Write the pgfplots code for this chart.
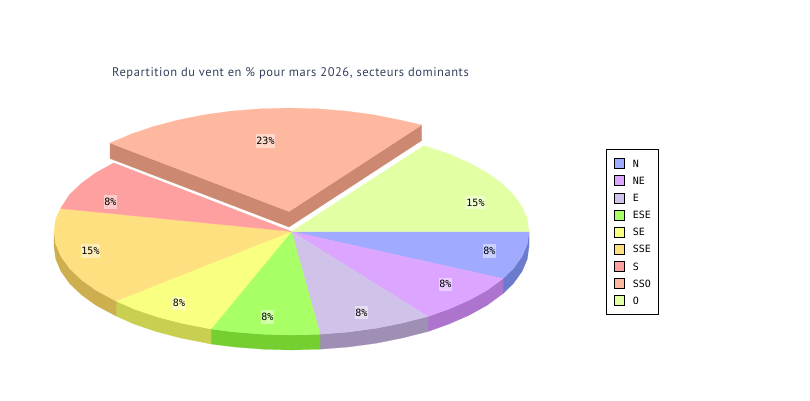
\documentclass[border=0pt]{standalone}
\usepackage{pgfplots}
\pgfplotsset{compat=1.18}
\usepackage{fontspec}
\setmainfont{PT Sans}
\newfontfamily\monof{DejaVu Sans Mono}
\definecolor{cN}{HTML}{A0AAFF}
\definecolor{cNE}{HTML}{DCA5FF}
\definecolor{cE}{HTML}{D0C2E8}
\definecolor{cESE}{HTML}{A8FF66}
\definecolor{cSE}{HTML}{F9FF80}
\definecolor{cSSE}{HTML}{FFE080}
\definecolor{cS}{HTML}{FFA0A0}
\definecolor{cSSO}{HTML}{FFB8A0}
\definecolor{cO}{HTML}{E3FFA3}
\definecolor{wN}{HTML}{6C7CCC}
\definecolor{wNE}{HTML}{AD74CD}
\definecolor{wE}{HTML}{A08FB5}
\definecolor{wESE}{HTML}{76CF30}
\definecolor{wSE}{HTML}{C9CF50}
\definecolor{wSSE}{HTML}{CDAF50}
\definecolor{wSSO}{HTML}{CC8870}
\definecolor{titlec}{HTML}{34405E}
\begin{document}
\begin{tikzpicture}[x=1pt,y=1pt]
\path[use as bounding box] (0,0) rectangle (810pt,400pt);
\begin{axis}[
  at={(0pt,0pt)},anchor=south west,
  scale only axis,width=810pt,height=400pt,
  xmin=0,xmax=810,ymin=0,ymax=400,y dir=reverse,
  axis lines=none,clip=false,
  legend image code/.code={\path[#1,draw=black,line width=.8pt] (0pt,-5pt) rectangle (10pt,5pt);\path[draw=none,fill=none] (0pt,0pt) -- (18.5pt,0pt);},
  legend cell align=left,
  legend style={at={(axis cs:606,149.3)},anchor=north west,draw=black,line width=1pt,
    font=\monof\fontsize{10}{12}\selectfont,row sep=6.3pt,inner xsep=7pt,inner ysep=8.5pt,
    nodes={inner sep=0.5pt,text height=7.5pt,text depth=0pt}},
]
% side walls
\addplot[fill=wN,draw=wN,line width=.2pt,forget plot] coordinates {(529,231.5)(527.3,244)(522.1,256.3)(513.6,268.2)(503,278.6)(503,293.6)(513.6,283.2)(522.1,271.3)(527.3,259)(529,246.5)} --cycle;
\addplot[fill=wNE,draw=wNE,line width=.2pt,forget plot] coordinates {(503,278.6)(487,290.3)(469.3,300.1)(449,309)(428,316.5)(428,331.5)(449,324)(469.3,315.1)(487,305.3)(503,293.6)} --cycle;
\addplot[fill=wE,draw=wE,line width=.2pt,forget plot] coordinates {(428,316.5)(401.9,323.1)(375.7,328.3)(348.3,332)(320.1,334.2)(320.1,349.2)(348.3,347)(375.7,343.3)(401.9,338.1)(428,331.5)} --cycle;
\addplot[fill=wESE,draw=wESE,line width=.2pt,forget plot] coordinates {(320.1,334.2)(291.5,335)(262.9,334.2)(234.7,332)(211,329)(211,344)(234.7,347)(262.9,349.2)(291.5,350)(320.1,349.2)} --cycle;
\addplot[fill=wSE,draw=wSE,line width=.2pt,forget plot] coordinates {(211,329)(181.1,323.1)(156.6,316.7)(134,309)(116,301)(116,316)(134,324)(156.6,331.7)(181.1,338.1)(211,344)} --cycle;
\addplot[fill=wSSE,draw=wSSE,line width=.2pt,forget plot] coordinates {(116,301)(96,290.3)(81.2,279.6)(69.4,268.2)(60.9,256.3)(55.7,244)(54,231.5)(54,246.5)(55.7,259)(60.9,271.3)(69.4,283.2)(81.2,294.6)(96,305.3)(116,316)} --cycle;
\addplot[fill=wSSO,draw=wSSO,line width=.2pt,forget plot] coordinates {(110,143)(289,211.5)(289,227)(110,158.5)} --cycle;
\addplot[fill=wSSO,draw=wSSO,line width=.2pt,forget plot] coordinates {(289,211.5)(421.7,125)(421.7,140.5)(289,227)} --cycle;
% top faces
\addplot[fill=cN,draw=cN,line width=.2pt] coordinates {(291.5,231.5)(529,231.5)(527.3,244)(522.1,256.3)(513.6,268.2)(503,278.6)} --cycle;
\addlegendentry{N}
\addplot[fill=cNE,draw=cNE,line width=.2pt] coordinates {(291.5,231.5)(503,278.6)(487,290.3)(469.3,300.1)(449,309)(428,316.5)} --cycle;
\addlegendentry{NE}
\addplot[fill=cE,draw=cE,line width=.2pt] coordinates {(291.5,231.5)(428,316.5)(401.9,323.1)(375.7,328.3)(348.3,332)(320.1,334.2)} --cycle;
\addlegendentry{E}
\addplot[fill=cESE,draw=cESE,line width=.2pt] coordinates {(291.5,231.5)(320.1,334.2)(291.5,335)(262.9,334.2)(234.7,332)(211,329)} --cycle;
\addlegendentry{ESE}
\addplot[fill=cSE,draw=cSE,line width=.2pt] coordinates {(291.5,231.5)(211,329)(181.1,323.1)(156.6,316.7)(134,309)(116,301)} --cycle;
\addlegendentry{SE}
\addplot[fill=cSSE,draw=cSSE,line width=.2pt] coordinates {(291.5,231.5)(116,301)(96,290.3)(81.2,279.6)(69.4,268.2)(60.9,256.3)(55.7,244)(54,231.5)(55.7,219)(60.5,208.5)} --cycle;
\addlegendentry{SSE}
\addplot[fill=cS,draw=cS,line width=.2pt] coordinates {(291.5,231.5)(60.5,208.5)(69.4,194.8)(81.2,183.4)(96,172.7)(113.7,162.9)} --cycle;
\addlegendentry{S}
\addplot[fill=cSSO,draw=cSSO,line width=.2pt] coordinates {(289,211.5)(110,143)(131.5,134)(154.1,126.3)(178.6,119.9)(204.8,114.7)(232.2,111)(260.4,108.8)(289,108)(317.6,108.8)(345.8,111)(373.2,114.7)(399.4,119.9)(421.7,125)} --cycle;
\addlegendentry{SSO}
\addplot[fill=cO,draw=cO,line width=.2pt] coordinates {(291.5,231.5)(424,145.6)(449,154)(469.3,162.9)(487,172.7)(501.8,183.4)(513.6,194.8)(522.1,206.7)(527.3,219)(529,231.5)} --cycle;
\addlegendentry{O}
% percentage labels
\addplot[draw=none,forget plot,nodes near coords={\pgfplotspointmeta\%},point meta=explicit symbolic,
  nodes near coords align={center},
  every node near coord/.append style={anchor=center,font=\monof\fontsize{10}{12}\selectfont,fill=white,fill opacity=.45,text opacity=1,inner xsep=.7pt,inner ysep=0pt,minimum height=13.5pt,text=black}]
  table[meta=l,row sep=\\]{
  x y l\\
  489.3 251 8\\
  445.3 284.3 8\\
  361.3 312.7 8\\
  267.3 317 8\\
  179 303.3 8\\
  90.5 250.8 15\\
  110.3 202 8\\
  265.5 141 23\\
  475.5 202.5 15\\
};
\node[anchor=west,text=titlec,font=\fontsize{12.5}{15}\selectfont\addfontfeature{LetterSpace=4.4},inner sep=0pt] at (axis cs:112,73) {Repartition du vent en \% pour mars 2026, secteurs dominants};
\end{axis}
\end{tikzpicture}
\end{document}
